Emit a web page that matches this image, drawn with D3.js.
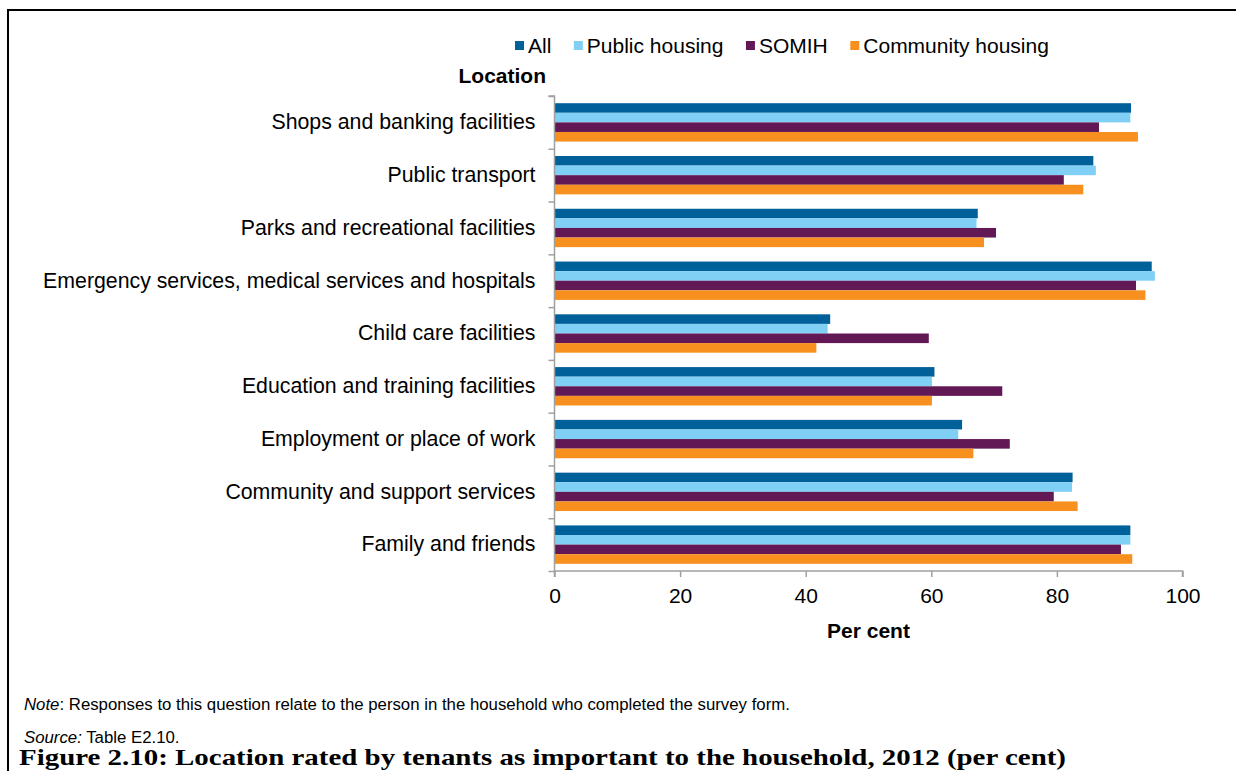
<!DOCTYPE html>
<html>
<head>
<meta charset="utf-8">
<script src="https://cdn.jsdelivr.net/npm/d3@7"></script>
<style>
  html, body { margin: 0; padding: 0; background: #fff; }
  svg { display: block; }
</style>
</head>
<body>
<svg id="chart" width="1236" height="771"></svg>
<script>
// Locations surveyed, top to bottom
const categories = [
  "Shops and banking facilities",
  "Public transport",
  "Parks and recreational facilities",
  "Emergency services, medical services and hospitals",
  "Child care facilities",
  "Education and training facilities",
  "Employment or place of work",
  "Community and support services",
  "Family and friends"
];

// Series shown in each group
const seriesNames = ["All", "Public housing", "SOMIH", "Community housing"];

// Per cent of tenants rating each location as important
const allValues       = [91.8, 85.8, 67.4, 95.1, 43.9, 60.5, 64.9, 82.5, 91.7];
const publicValues    = [91.7, 86.2, 67.2, 95.6, 43.5, 60.1, 64.3, 82.4, 91.7];
const somihValues     = [86.7, 81.1, 70.3, 92.6, 59.6, 71.3, 72.5, 79.5, 90.2];
const communityValues = [92.9, 84.2, 68.4, 94.1, 41.7, 60.1, 66.7, 83.3, 92.0];

const xTicks = [0, 20, 40, 60, 80, 100];

const seriesValues = [allValues, publicValues, somihValues, communityValues];
const colors = ["#00609a", "#80d0f5", "#631856", "#f7901e"];

const svg = d3.select("#chart");
const FONT = "'Liberation Sans', Arial, sans-serif";
const FS = 21;

// Frame around the figure
svg.append("path")
  .attr("d", "M8,771V10H1236")
  .attr("fill", "none")
  .attr("stroke", "#000")
  .attr("stroke-width", 2);

const plot = { left: 554.5, right: 1182.5, top: 96, bottom: 571 };

const x = d3.scaleLinear().domain([0, 100]).range([plot.left, plot.right]);
const y = d3.scaleBand().domain(categories).range([plot.top, plot.bottom]).padding(0);
const step = y.bandwidth();
const groupH = step * 0.727;
const y1 = d3.scaleBand().domain(seriesNames)
  .range([(step - groupH) / 2, (step + groupH) / 2]).padding(0);

// Bars
const rows = categories.map((c, i) => ({
  cat: c,
  vals: seriesNames.map((s, j) => ({ s, v: seriesValues[j][i], c: colors[j] }))
}));

const g = svg.append("g");
g.selectAll("g.row")
  .data(rows)
  .join("g")
  .attr("class", "row")
  .attr("transform", d => `translate(0,${y(d.cat)})`)
  .selectAll("rect")
  .data(d => d.vals)
  .join("rect")
  .attr("x", x(0))
  .attr("y", d => y1(d.s))
  .attr("width", d => x(d.v) - x(0))
  .attr("height", y1.bandwidth())
  .attr("fill", d => d.c);

const axisColor = "#a0a0a0";

// Category boundary ticks on the vertical axis
const yEdges = d3.scaleLinear().domain([0, categories.length]).range([plot.top, plot.bottom]);
const yTickAxis = svg.append("g")
  .attr("transform", `translate(${plot.left},0)`)
  .call(d3.axisLeft(yEdges).tickValues(d3.range(categories.length + 1)).tickSize(6).tickFormat(""));
yTickAxis.selectAll("path, line").attr("stroke", axisColor).attr("stroke-width", 1.5);
yTickAxis.select(".domain").attr("d", `M-6,${plot.top}H0V${plot.bottom}`);

// Category labels
const yLabelAxis = svg.append("g")
  .attr("transform", `translate(${plot.left},0)`)
  .call(d3.axisLeft(y).tickSize(0).tickPadding(19));
yLabelAxis.select(".domain").remove();
yLabelAxis.selectAll("text")
  .attr("font-family", FONT)
  .attr("font-size", 21.3)
  .attr("fill", "#000");

// Value axis
const xAxis = svg.append("g")
  .attr("transform", `translate(0,${plot.bottom})`)
  .call(d3.axisBottom(x).tickValues(xTicks).tickSize(6).tickPadding(11));
xAxis.selectAll("path, line").attr("stroke", axisColor).attr("stroke-width", 1.5);
xAxis.select(".domain").attr("d", `M${plot.left},6V0H${plot.right}V6`);
xAxis.selectAll("text")
  .attr("font-family", FONT)
  .attr("font-size", FS)
  .attr("fill", "#000");

// Axis titles
svg.append("text")
  .attr("x", (plot.left + plot.right) / 2)
  .attr("y", 638)
  .attr("text-anchor", "middle")
  .attr("font-family", FONT)
  .attr("font-weight", "bold")
  .attr("font-size", FS)
  .text("Per cent");

svg.append("text")
  .attr("x", 546)
  .attr("y", 83)
  .attr("text-anchor", "end")
  .attr("font-family", FONT)
  .attr("font-weight", "bold")
  .attr("font-size", FS)
  .text("Location");

// Legend
const legend = svg.append("g").attr("transform", "translate(515,0)");
let lx = 0;
seriesNames.forEach((s, i) => {
  const item = legend.append("g").attr("transform", `translate(${lx},0)`);
  item.append("rect").attr("x", 0).attr("y", 41).attr("width", 9).attr("height", 9).attr("fill", colors[i]);
  const t = item.append("text")
    .attr("x", 13).attr("y", 53)
    .attr("font-family", FONT)
    .attr("font-size", FS)
    .text(s);
  lx += 13 + t.node().getComputedTextLength() + 22.5;
});

// Notes and figure title
const note = svg.append("text")
  .attr("x", 24).attr("y", 710)
  .attr("font-family", FONT)
  .attr("font-size", 16.8);
note.append("tspan").attr("font-style", "italic").text("Note");
note.append("tspan").text(": Responses to this question relate to the person in the household who completed the survey form.");

const source = svg.append("text")
  .attr("x", 24).attr("y", 743)
  .attr("font-family", FONT)
  .attr("font-size", 16.8);
source.append("tspan").attr("font-style", "italic").text("Source:");
source.append("tspan").text(" Table E2.10.");

svg.append("text")
  .attr("x", 19).attr("y", 765)
  .attr("font-family", "'Liberation Serif', 'Times New Roman', serif")
  .attr("font-weight", "bold")
  .attr("font-size", 23)
  .attr("textLength", 1047)
  .attr("lengthAdjust", "spacingAndGlyphs")
  .text("Figure 2.10: Location rated by tenants as important to the household, 2012 (per cent)");
</script>
</body>
</html>
